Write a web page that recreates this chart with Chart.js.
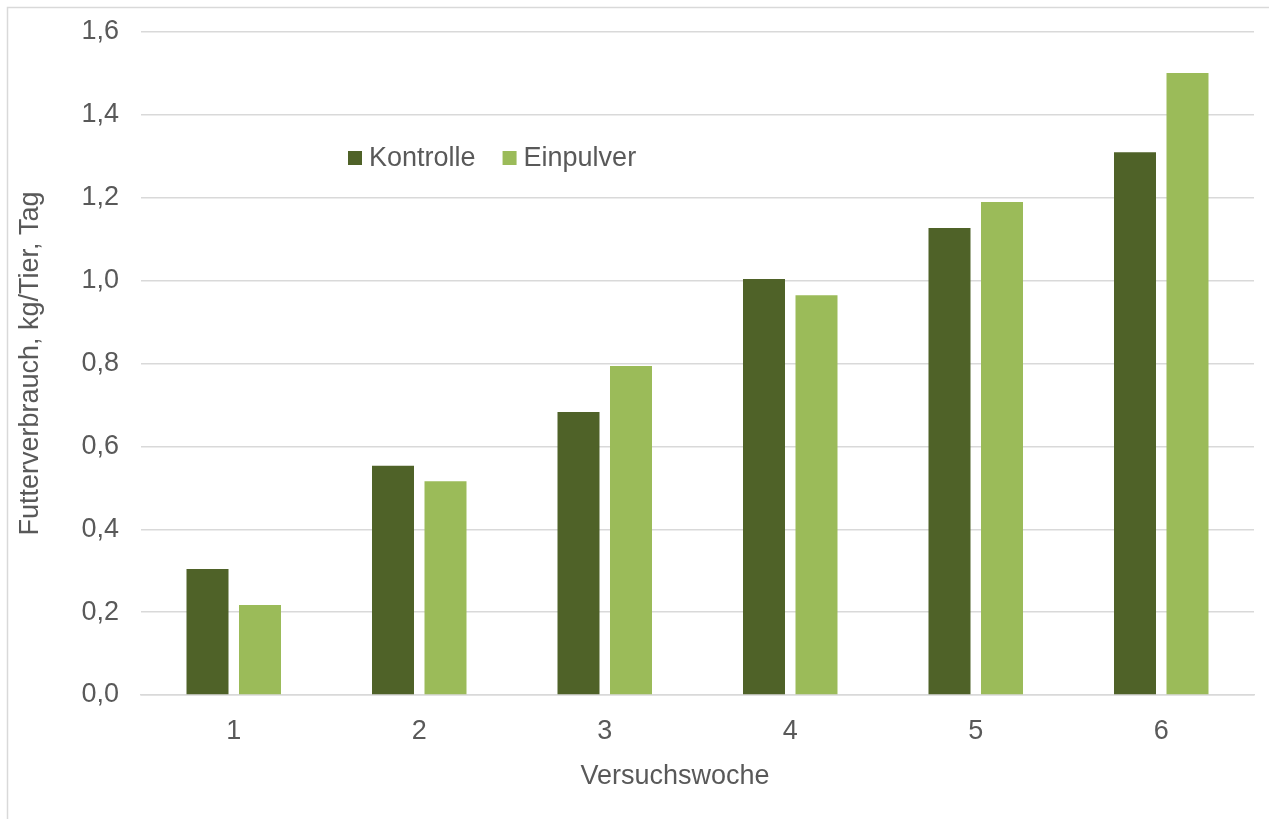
<!DOCTYPE html>
<html>
<head>
<meta charset="utf-8">
<script src="https://cdn.jsdelivr.net/npm/chart.js@4"></script>
<style>
  html, body { margin: 0; padding: 0; background: #fff; }
  #wrap { width: 1269px; height: 819px; }
</style>
</head>
<body>
<div id="wrap"><canvas id="barChart"></canvas></div>
<script>
// data
const weeks = ['1', '2', '3', '4', '5', '6'];
const kontrolle = [0.304, 0.553, 0.683, 1.004, 1.127, 1.310];
const einpulver = [0.217, 0.516, 0.794, 0.965, 1.190, 1.501];
const seriesNames = ['Kontrolle', 'Einpulver'];
const seriesColors = ['#4f6228', '#9bbb59'];

const font = 'Arial, "Liberation Sans", sans-serif';
const textColor = '#595959';
const fs = 27;

// outer frame + legend inside plot
const framePlugin = {
  id: 'frame',
  beforeDraw(chart) {
    const ctx = chart.ctx;
    ctx.save();
    ctx.strokeStyle = '#d9d9d9';
    ctx.lineWidth = 1.5;
    ctx.strokeRect(7.5, 7.5, 1300, 850);
    ctx.restore();
  },
  afterDraw(chart) {
    const ctx = chart.ctx;
    ctx.save();
    ctx.font = fs + 'px ' + font;
    ctx.textBaseline = 'middle';
    let x = 348;
    const y = 158;
    chart.data.datasets.forEach((ds, i) => {
      ctx.fillStyle = ds.backgroundColor;
      ctx.fillRect(x, y - 7, 14, 14);
      ctx.fillStyle = textColor;
      ctx.fillText(ds.label, x + 21, y + 1);
      x += 21 + ctx.measureText(ds.label).width + 27;
    });
    ctx.restore();
  }
};

const ctx = document.getElementById('barChart');
new Chart(ctx, {
  type: 'bar',
  data: {
    labels: weeks,
    datasets: [
      { label: seriesNames[0], data: kontrolle, backgroundColor: seriesColors[0] },
      { label: seriesNames[1], data: einpulver, backgroundColor: seriesColors[1] }
    ]
  },
  options: {
    responsive: true,
    maintainAspectRatio: false,
    animation: false,
    datasets: {
      bar: { categoryPercentage: 0.566, barPercentage: 0.8 }
    },
    layout: { padding: { left: 0, right: 15, top: 32, bottom: 0 } },
    plugins: {
      legend: { display: false },
      tooltip: { enabled: false }
    },
    scales: {
      x: {
        grid: { display: false },
        border: { display: true, color: '#d9d9d9', width: 1.5 },
        ticks: { color: textColor, font: { family: font, size: fs }, padding: 12 },
        title: {
          display: true,
          text: 'Versuchswoche      ',
          color: textColor,
          font: { family: font, size: fs },
          padding: { top: 10, bottom: 26 }
        },
        afterFit(scale) { scale.height = 124; }
      },
      y: {
        min: 0,
        max: 1.6,
        ticks: {
          stepSize: 0.2,
          color: textColor,
          font: { family: font, size: fs },
          padding: 22,
          callback: v => v.toFixed(1).replace('.', ',')
        },
        grid: { color: '#d9d9d9', lineWidth: 1.5, drawTicks: false },
        border: { display: false },
        title: {
          display: true,
          text: 'Futterverbrauch, kg/Tier, Tag',
          color: textColor,
          font: { family: font, size: fs },
          padding: { top: 14, bottom: 0 }
        },
        afterFit(scale) {
          scale.width = 141;
          scale.paddingTop = 0;
          scale.paddingBottom = 0;
        }
      }
    }
  },
  plugins: [framePlugin]
});
</script>
</body>
</html>
